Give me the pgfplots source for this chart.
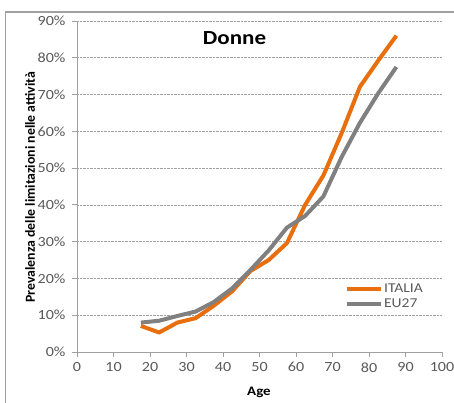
\documentclass[border=0pt]{standalone}
\usepackage{fontspec}
\setmainfont{Carlito}[FakeStretch=1.15]
\newfontfamily\plainfont{Carlito}
\usepackage{pgfplots}
\pgfplotsset{compat=1.18}
\definecolor{itorange}{RGB}{232,110,14}
\definecolor{eugray}{RGB}{128,128,128}
\definecolor{axgray}{RGB}{160,160,160}
\definecolor{tickgray}{RGB}{89,89,89}
\begin{document}
\begin{tikzpicture}
\useasboundingbox (0,0) rectangle (454pt,403pt);
\draw[color=axgray, line width=1.3pt] (5.5pt,0) -- (5.5pt,391pt) -- (454pt,391pt);
\begin{axis}[
  at={(77pt,51pt)}, anchor=south west,
  scale only axis, width=365pt, height=331pt,
  xmin=0, xmax=100, ymin=0, ymax=90,
  axis x line=bottom, axis y line=left,
  axis line style={-, color=axgray, line width=0.8pt},
  xtick={0,10,...,100}, ytick={0,10,...,90},
  tick align=outside, major tick length=5pt,
  tick style={color=axgray, line width=0.8pt},
  ymajorgrids, grid style={densely dotted, color=axgray, line width=0.6pt},
  /pgf/number format/assume math mode=true,
  ticklabel style={font=\fontsize{14}{16}\selectfont, color=tickgray},
  xticklabel style={yshift=-2pt},
  yticklabel style={xshift=-3pt},
  yticklabel={\pgfmathprintnumber{\tick}\%},
  title={Donne},
  title style={at={(axis description cs:0.4315,0.93)}, anchor=center, font=\bfseries\fontsize{20}{22}\selectfont},
  xlabel={Age},
  xlabel style={at={(axis description cs:0.4986,-0.121)}, anchor=center, font=\bfseries\fontsize{13}{15}\selectfont, color=black},
  ylabel={Prevalenza delle limitazioni nelle attività},
  ylabel style={at={(axis description cs:-0.1288,0.498)}, anchor=center, rotate=0, font=\plainfont\bfseries\fontsize{13.8}{15}\selectfont, color=black},
  legend style={at={(axis description cs:0.734,0.1677)}, anchor=west, draw=none, fill=none, inner sep=0pt,
    font=\fontsize{13.5}{15}\selectfont, text=tickgray, row sep=3pt,
    nodes={inner sep=1pt}},
  legend cell align=left,
  legend image code/.code={\draw[#1, line width=4pt] (0pt,0pt) -- (34pt,0pt);},
  clip=false,
]
\addplot[color=itorange, line width=4pt, line join=round] coordinates {
(17.5,7.1) (22.5,5.3) (27.5,8.0) (32.5,9.2) (37.5,12.6) (42.5,16.5) (47.5,22.0)
(52.5,25.0) (57.5,29.6) (62.5,40.0) (67.5,48.0) (72.5,59.5) (77.5,72.1) (82.5,79.2) (87.5,86.0)
};
\addlegendentry{ITALIA}
\addplot[color=eugray, line width=4pt, line join=round] coordinates {
(17.5,8.0) (22.5,8.5) (27.5,9.8) (32.5,11.0) (37.5,13.6) (42.5,17.3) (47.5,22.3)
(52.5,27.6) (57.5,33.8) (62.5,37.0) (67.5,42.3) (72.5,53.0) (77.5,62.3) (82.5,70.3) (87.5,77.5)
};
\addlegendentry{EU27}
\end{axis}
\end{tikzpicture}
\end{document}
